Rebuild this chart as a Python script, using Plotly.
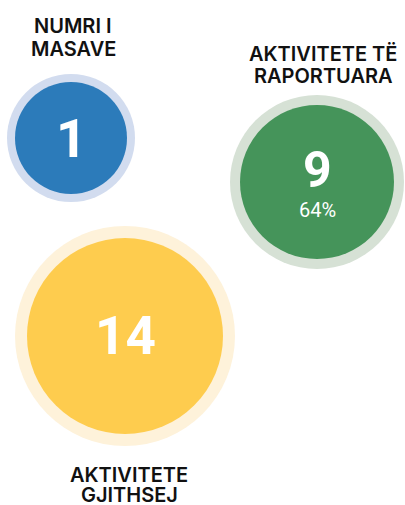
import plotly.graph_objects as go

categories = ["NUMRI I<br>MASAVE", "AKTIVITETE TË<br>RAPORTUARA", "AKTIVITETE<br>GJITHSEJ"]
values = [1, 9, 14]
percent_labels = ["", "64%", ""]

# layout (pixel positions in a 405x505 canvas)
cx = [71, 317, 125]
cy = [138, 182, 336]
inner_d = [112, 154, 196]
outer_d = [128, 174, 220]
label_x = [73, 323, 129]
label_y = [[26, 49], [54, 76], [475, 495]]
fill_colors = ["#2C7BBA", "#45945A", "#FECC4E"]
halo_colors = ["#D2DCEF", "#D6E1D5", "#FEF2DA"]
num_sizes = [54, 50, 53]
num_dy = [0, -12, 0]

fig = go.Figure()
fig.add_trace(go.Scatter(x=cx, y=cy, mode="markers",
                         marker=dict(size=outer_d, color=halo_colors, line=dict(width=0), opacity=1),
                         hoverinfo="skip", showlegend=False))
fig.add_trace(go.Scatter(x=cx, y=cy, mode="markers",
                         marker=dict(size=inner_d, color=fill_colors, line=dict(width=0), opacity=1),
                         hoverinfo="skip", showlegend=False))

for i in range(3):
    fig.add_annotation(x=cx[i], y=cy[i] + num_dy[i], text="<b>%d</b>" % values[i],
                       showarrow=False, font=dict(family="Roboto", size=num_sizes[i], color="white"),
                       xanchor="center", yanchor="middle")
    if percent_labels[i]:
        fig.add_annotation(x=cx[i], y=cy[i] + 28, text=percent_labels[i], showarrow=False,
                           font=dict(family="Roboto", size=20, color="white"),
                           xanchor="center", yanchor="middle")
    for j, line in enumerate(categories[i].split("<br>")):
        fig.add_annotation(x=label_x[i], y=label_y[i][j], text=line, showarrow=False,
                           font=dict(family="Inter", size=20, color="#111111", weight=600),
                           xanchor="center", yanchor="middle", align="center")

fig.update_layout(width=405, height=505, margin=dict(l=0, r=0, t=0, b=0),
                  paper_bgcolor="white", plot_bgcolor="white",
                  xaxis=dict(range=[0, 405], visible=False, fixedrange=True),
                  yaxis=dict(range=[505, 0], visible=False, fixedrange=True))
fig.write_html("out.html", config={"displayModeBar": False},
               post_script="document.body.style.margin='0';document.body.style.overflow='hidden';")
